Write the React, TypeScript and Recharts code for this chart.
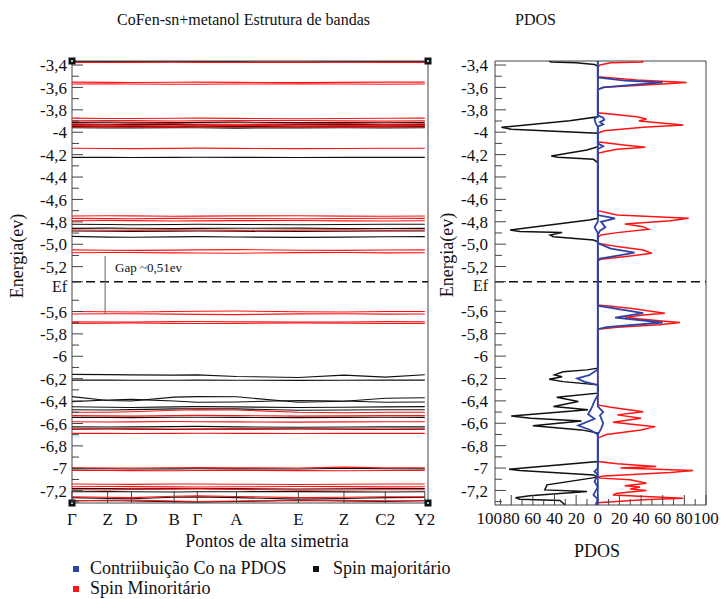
import React from 'react';
import {
  LineChart,
  Line,
  XAxis,
  YAxis,
  ReferenceLine,
  ReferenceArea,
  ReferenceDot,
  ScatterChart,
  Scatter,
} from 'recharts';

const FONT = '"Liberation Serif", "DejaVu Serif", serif';
const INK = '#111';
const FRAME = '#444';
const RED = '#ff1414';
const BLUE = '#2f43a6';

// energy window (eV)
const E_TOP = -3.364;
const E_BOTTOM = -7.31;
const E_BOTTOM_DOS = -7.33;
const E_FERMI = -5.335;

// k-path
const K_POS = [0, 0.1, 0.167, 0.287, 0.352, 0.462, 0.636, 0.764, 0.88, 0.991];
const K_LABELS = ['Γ', 'Z', 'D', 'B', 'Γ', 'A', 'E', 'Z', 'C2', 'Y2'];

const E_TICKS = [-3.4, -3.6, -3.8, -4, -4.2, -4.4, -4.6, -4.8, -5.0, -5.2, E_FERMI, -5.6, -5.8, -6, -6.2, -6.4, -6.6, -6.8, -7, -7.2];
const E_TICK_LABELS = ['-3,4', '-3,6', '-3,8', '-4', '-4,2', '-4,4', '-4,6', '-4,8', '-5,0', '-5,2', 'Ef', '-5,6', '-5,8', '-6', '-6,2', '-6,4', '-6,6', '-6,8', '-7', '-7,2'];
const E_MINOR = [-3.5, -3.7, -3.9, -4.1, -4.3, -4.5, -4.7, -4.9, -5.1, -5.5, -5.7, -5.9, -6.1, -6.3, -6.5, -6.7, -6.9, -7.1, -7.3];

const DOS_LABEL_TICKS = [-95, -80, -60, -40, -20, 0, 20, 40, 60, 80, 100];
const DOS_LABELS = ['100', '80', '60', '40', '20', '0', '20', '40', '60', '80', '100'];
const DOS_MINOR = [-90, -70, -50, -30, -10, 10, 30, 50, 70, 90];

// bands at the k-points (Γ Z D B Γ A E Z C2 Y2)
const MAJORITY_BANDS = [
  [-3.371, -3.372, -3.372, -3.371, -3.371, -3.372, -3.373, -3.372, -3.371, -3.371],
  [-3.912, -3.910, -3.911, -3.913, -3.912, -3.910, -3.914, -3.912, -3.911, -3.912],
  [-3.932, -3.934, -3.930, -3.931, -3.933, -3.935, -3.932, -3.930, -3.933, -3.932],
  [-3.948, -3.946, -3.949, -3.950, -3.947, -3.948, -3.951, -3.949, -3.947, -3.948],
  [-3.960, -3.962, -3.961, -3.959, -3.960, -3.963, -3.961, -3.960, -3.962, -3.960],
  [-4.224, -4.224, -4.225, -4.224, -4.223, -4.224, -4.225, -4.224, -4.224, -4.224],
  [-4.822, -4.824, -4.826, -4.823, -4.821, -4.823, -4.826, -4.824, -4.822, -4.822],
  [-4.858, -4.856, -4.857, -4.860, -4.858, -4.857, -4.856, -4.859, -4.860, -4.858],
  [-4.882, -4.884, -4.885, -4.883, -4.882, -4.884, -4.886, -4.884, -4.881, -4.882],
  [-4.930, -4.936, -4.938, -4.934, -4.932, -4.935, -4.939, -4.936, -4.933, -4.932],
  [-6.162, -6.164, -6.166, -6.168, -6.166, -6.180, -6.189, -6.168, -6.186, -6.165],
  [-6.213, -6.213, -6.214, -6.214, -6.213, -6.214, -6.215, -6.214, -6.213, -6.213],
  [-6.360, -6.395, -6.400, -6.365, -6.360, -6.362, -6.410, -6.402, -6.375, -6.370],
  [-6.405, -6.390, -6.385, -6.400, -6.410, -6.408, -6.395, -6.400, -6.410, -6.408],
  [-6.451, -6.455, -6.458, -6.452, -6.450, -6.452, -6.458, -6.455, -6.452, -6.450],
  [-6.478, -6.480, -6.476, -6.470, -6.468, -6.470, -6.482, -6.480, -6.478, -6.478],
  [-6.546, -6.546, -6.548, -6.545, -6.544, -6.546, -6.548, -6.546, -6.545, -6.546],
  [-6.630, -6.632, -6.630, -6.628, -6.626, -6.630, -6.634, -6.632, -6.630, -6.630],
  [-6.652, -6.650, -6.652, -6.654, -6.652, -6.651, -6.650, -6.652, -6.654, -6.652],
  [-7.005, -7.004, -7.006, -7.005, -7.004, -7.005, -7.006, -7.000, -7.004, -7.005],
  [-7.180, -7.182, -7.184, -7.181, -7.180, -7.182, -7.185, -7.183, -7.181, -7.180],
  [-7.210, -7.208, -7.210, -7.212, -7.210, -7.209, -7.208, -7.211, -7.212, -7.210],
  [-7.262, -7.270, -7.272, -7.258, -7.255, -7.262, -7.275, -7.270, -7.262, -7.260],
  [-7.290, -7.288, -7.292, -7.298, -7.300, -7.296, -7.288, -7.292, -7.296, -7.290],
];

const MINORITY_BANDS = [
  [-3.376, -3.377, -3.376, -3.375, -3.376, -3.377, -3.376, -3.375, -3.376, -3.376],
  [-3.553, -3.555, -3.556, -3.554, -3.553, -3.555, -3.557, -3.555, -3.553, -3.553],
  [-3.570, -3.568, -3.569, -3.572, -3.571, -3.569, -3.568, -3.570, -3.572, -3.570],
  [-3.874, -3.877, -3.878, -3.875, -3.874, -3.876, -3.879, -3.877, -3.875, -3.874],
  [-3.897, -3.895, -3.896, -3.899, -3.898, -3.896, -3.895, -3.898, -3.899, -3.897],
  [-3.925, -3.927, -3.924, -3.923, -3.926, -3.928, -3.925, -3.923, -3.926, -3.925],
  [-3.940, -3.938, -3.941, -3.943, -3.940, -3.939, -3.942, -3.941, -3.939, -3.940],
  [-3.955, -3.957, -3.956, -3.954, -3.955, -3.958, -3.956, -3.954, -3.957, -3.955],
  [-4.143, -4.145, -4.146, -4.144, -4.142, -4.144, -4.146, -4.145, -4.143, -4.143],
  [-4.748, -4.746, -4.747, -4.750, -4.749, -4.747, -4.746, -4.749, -4.750, -4.748],
  [-4.769, -4.771, -4.772, -4.769, -4.768, -4.770, -4.772, -4.770, -4.768, -4.769],
  [-4.790, -4.788, -4.789, -4.792, -4.791, -4.789, -4.788, -4.791, -4.792, -4.790],
  [-4.873, -4.875, -4.874, -4.872, -4.873, -4.876, -4.874, -4.872, -4.875, -4.873],
  [-5.050, -5.053, -5.055, -5.052, -5.050, -5.048, -5.053, -5.055, -5.051, -5.050],
  [-5.076, -5.074, -5.073, -5.077, -5.078, -5.080, -5.075, -5.073, -5.077, -5.076],
  [-5.600, -5.603, -5.605, -5.600, -5.598, -5.596, -5.603, -5.605, -5.601, -5.600],
  [-5.623, -5.621, -5.620, -5.624, -5.626, -5.628, -5.622, -5.620, -5.624, -5.623],
  [-5.692, -5.694, -5.695, -5.691, -5.690, -5.692, -5.695, -5.694, -5.691, -5.692],
  [-5.706, -5.704, -5.703, -5.707, -5.708, -5.706, -5.703, -5.704, -5.707, -5.706],
  [-6.500, -6.500, -6.496, -6.482, -6.476, -6.480, -6.500, -6.504, -6.500, -6.500],
  [-6.530, -6.532, -6.534, -6.530, -6.528, -6.530, -6.534, -6.532, -6.530, -6.530],
  [-6.585, -6.587, -6.586, -6.583, -6.584, -6.586, -6.588, -6.586, -6.584, -6.585],
  [-6.647, -6.645, -6.646, -6.649, -6.648, -6.646, -6.645, -6.647, -6.649, -6.647],
  [-6.688, -6.688, -6.689, -6.688, -6.687, -6.688, -6.689, -6.688, -6.688, -6.688],
  [-6.995, -6.997, -6.998, -6.995, -6.994, -6.996, -6.998, -6.990, -6.995, -6.995],
  [-7.020, -7.019, -7.021, -7.022, -7.020, -7.019, -7.021, -7.022, -7.020, -7.020],
  [-7.141, -7.143, -7.144, -7.141, -7.140, -7.142, -7.145, -7.143, -7.141, -7.141],
  [-7.165, -7.163, -7.164, -7.166, -7.167, -7.165, -7.163, -7.164, -7.166, -7.165],
  [-7.192, -7.194, -7.190, -7.186, -7.184, -7.188, -7.195, -7.194, -7.192, -7.192],
  [-7.255, -7.258, -7.262, -7.250, -7.246, -7.252, -7.262, -7.258, -7.254, -7.255],
  [-7.290, -7.286, -7.284, -7.292, -7.296, -7.292, -7.284, -7.287, -7.290, -7.290],
];

// PDOS curves: [energy, states] (majority drawn to the left)
const MAJ_DOS = [
  [-3.364, -45], [-3.372, -43], [-3.38, -20], [-3.395, -3], [-3.41, 0],
  [-3.862, 0], [-3.897, -26], [-3.956, -89], [-3.974, -80], [-4.01, 0],
  [-4.129, 0], [-4.159, -10], [-4.213, -43], [-4.224, -37], [-4.242, -4], [-4.272, 0],
  [-4.769, 0], [-4.784, -8], [-4.873, -81], [-4.888, -72], [-4.897, -33], [-4.918, -44], [-4.933, -41], [-4.963, -4], [-4.978, 0],
  [-6.108, 0], [-6.123, -10], [-6.14, -32], [-6.168, -40], [-6.185, -33], [-6.207, -45], [-6.228, -32], [-6.257, 0],
  [-6.331, 0], [-6.367, -38], [-6.406, -18], [-6.451, -41], [-6.48, -9], [-6.534, -80], [-6.555, -62], [-6.579, -15], [-6.623, -60], [-6.659, -15], [-6.688, 0],
  [-6.942, 0], [-7.01, -82], [-7.022, -72], [-7.061, -4], [-7.08, 0],
  [-7.09, -6], [-7.15, -47], [-7.195, -49], [-7.21, -10], [-7.248, -63], [-7.265, -76], [-7.278, -72], [-7.29, -35], [-7.33, -30],
];

const MIN_DOS = [
  [-3.364, 40], [-3.372, 42], [-3.38, 12], [-3.4, 2], [-3.42, 0],
  [-3.504, 0], [-3.534, 36], [-3.555, 82], [-3.57, 60], [-3.599, 6], [-3.617, 0],
  [-3.826, 0], [-3.862, 36], [-3.882, 45], [-3.9, 38], [-3.936, 79], [-3.956, 42], [-3.987, 6], [-4.01, 0],
  [-4.085, 0], [-4.114, 24], [-4.135, 44], [-4.153, 18], [-4.174, 6], [-4.188, 0],
  [-4.701, 0], [-4.739, 18], [-4.769, 84], [-4.79, 67], [-4.82, 25], [-4.844, 42], [-4.867, 47], [-4.897, 18], [-4.918, 3], [-4.94, 0],
  [-4.992, 0], [-5.022, 18], [-5.052, 42], [-5.081, 50], [-5.105, 30], [-5.135, 3], [-5.147, 0],
  [-5.543, 0], [-5.573, 30], [-5.617, 62], [-5.632, 42], [-5.656, 25], [-5.683, 54], [-5.7, 76], [-5.721, 57], [-5.742, 18], [-5.76, 0],
  [-6.436, 0], [-6.457, 12], [-6.496, 42], [-6.525, 18], [-6.556, 40], [-6.59, 14], [-6.63, 53], [-6.66, 40], [-6.7, 8], [-6.733, 0],
  [-6.942, 0], [-6.962, 18], [-6.986, 54], [-7.0, 21], [-7.022, 88], [-7.04, 67], [-7.07, 6], [-7.08, 0],
  [-7.09, 2], [-7.105, 30], [-7.135, 45], [-7.159, 25], [-7.17, 39], [-7.188, 30], [-7.2, 45], [-7.224, 18], [-7.24, 14], [-7.269, 79], [-7.284, 42], [-7.31, 0],
];

const CO_MIN_DOS = [
  [-3.364, 0], [-3.51, 0], [-3.54, 25], [-3.555, 60], [-3.575, 35], [-3.6, 5], [-3.62, 0],
  [-3.85, 0], [-3.87, 5], [-3.89, 6], [-3.91, 2], [-3.93, 5], [-3.95, 0],
  [-4.1, 0], [-4.125, 5], [-4.15, 0],
  [-4.74, 0], [-4.769, 16], [-4.8, 3], [-4.85, 7], [-4.88, 2], [-4.92, 0],
  [-4.99, 0], [-5.04, 12], [-5.075, 34], [-5.1, 20], [-5.13, 2], [-5.15, 0],
  [-5.55, 0], [-5.617, 42], [-5.656, 16], [-5.7, 60], [-5.742, 8], [-5.76, 0],
  [-6.45, 0], [-6.5, 5], [-6.53, 2], [-6.6, 5], [-6.65, 3], [-6.7, 0],
  [-7.33, 0],
];

const CO_MAJ_DOS = [
  [-3.364, 0], [-3.86, 0], [-3.88, -3], [-3.92, -2], [-3.95, 0],
  [-4.8, 0], [-4.85, -3], [-4.9, 0],
  [-6.12, 0], [-6.17, -8], [-6.2, -19], [-6.23, -12], [-6.257, 0],
  [-6.35, 0], [-6.4, -3], [-6.47, -6], [-6.52, -9], [-6.56, -3], [-6.62, -18], [-6.66, -7], [-6.7, 0],
  [-7.0, 0], [-7.03, -3], [-7.06, 0], [-7.12, -3], [-7.17, 0], [-7.24, -4], [-7.28, 0], [-7.33, -2],
];

const bandRows = K_POS.map((k, i) => {
  const row: Record<string, number> = { k };
  MAJORITY_BANDS.forEach((b, j) => (row['up' + j] = b[i]));
  MINORITY_BANDS.forEach((b, j) => (row['dn' + j] = b[i]));
  return row;
});

const toPoints = (rows: number[][]) => rows.map(([e, v]) => ({ e, v }));

const textStyle = { fontFamily: FONT };

function EnergyTick({ x, y, payload, gap }: any) {
  const idx = E_TICKS.indexOf(payload.value);
  const major = idx >= 0;
  const fermi = payload.value === E_FERMI;
  return (
    <g>
      <line x1={x} x2={x + (major ? 11 : 7)} y1={y} y2={y} stroke={FRAME} />
      {major && (
        <text
          x={x - gap}
          y={fermi ? y + 4 : y}
          dy="0.36em"
          textAnchor="end"
          fontSize={fermi ? 16 : 17}
          style={textStyle}
          fill={INK}
        >
          {E_TICK_LABELS[idx]}
        </text>
      )}
    </g>
  );
}

function KTick({ x, y, payload, top }: any) {
  if (top) return <line x1={x} x2={x} y1={y} y2={y + 12} stroke={FRAME} />;
  const idx = K_POS.indexOf(payload.value);
  return (
    <g>
      <line x1={x} x2={x} y1={y} y2={y - 12} stroke={FRAME} />
      <text x={x} y={y + 22} textAnchor="middle" fontSize={17} style={textStyle} fill={INK}>
        {K_LABELS[idx]}
      </text>
    </g>
  );
}

function DosTick({ x, y, payload, top }: any) {
  const idx = DOS_LABEL_TICKS.indexOf(payload.value);
  const edge = payload.value === -95;
  const len = edge ? 0 : idx >= 0 ? 10 : 6;
  return (
    <g>
      <line x1={x} x2={x} y1={y} y2={top ? y + len : y - len} stroke={FRAME} />
      {!top && idx >= 0 && (
        <text
          x={edge ? x + 7 : x}
          y={y + 19}
          textAnchor={edge ? 'end' : 'middle'}
          fontSize={17}
          style={textStyle}
          fill={INK}
        >
          {DOS_LABELS[idx]}
        </text>
      )}
    </g>
  );
}

const cornerShape = (p: any) => (
  <g>
    <rect x={p.cx - 3.5} y={p.cy - 3.5} width={7} height={7} fill="#111" />
    <rect x={p.cx - 1} y={p.cy - 1} width={2} height={2} fill="#9cd" />
  </g>
);

const noDot = () => <g />;

function BandChart() {
  const allTicks = [...E_TICKS, ...E_MINOR];
  const corners = [
    [0, E_TOP],
    [1, E_TOP],
    [0, E_BOTTOM],
    [1, E_BOTTOM],
  ];
  return (
    <LineChart width={440} height={530} data={bandRows} margin={{ top: 61, right: 12, bottom: 0, left: 0 }}>
      <XAxis
        dataKey="k"
        type="number"
        domain={[0, 1]}
        allowDataOverflow
        ticks={K_POS}
        interval={0}
        tickSize={0}
        tickMargin={0}
        height={27}
        axisLine={false}
        tick={<KTick />}
      />
      <XAxis
        xAxisId="top"
        orientation="top"
        dataKey="k"
        type="number"
        domain={[0, 1]}
        allowDataOverflow
        ticks={K_POS}
        interval={0}
        tickSize={0}
        tickMargin={0}
        height={0}
        axisLine={false}
        tick={<KTick top />}
      />
      <YAxis
        type="number"
        domain={[E_BOTTOM, E_TOP]}
        allowDataOverflow
        ticks={allTicks}
        interval={0}
        tickSize={0}
        tickMargin={0}
        width={72}
        axisLine={false}
        tick={<EnergyTick gap={5} />}
      />
      {MAJORITY_BANDS.map((_, j) => (
        <Line key={'up' + j} dataKey={'up' + j} type="linear" stroke={INK} strokeWidth={1.1} dot={false} isAnimationActive={false} />
      ))}
      {MINORITY_BANDS.map((_, j) => (
        <Line key={'dn' + j} dataKey={'dn' + j} type="linear" stroke={RED} strokeWidth={1.1} dot={false} isAnimationActive={false} />
      ))}
      <ReferenceLine y={E_FERMI} stroke={INK} strokeWidth={1.5} strokeDasharray="9 5" />
      <ReferenceLine
        segment={[
          { x: 0.093, y: -5.105 },
          { x: 0.093, y: -5.623 },
        ]}
        stroke="#666"
      />
      <ReferenceDot
        x={0.121}
        y={-5.204}
        r={1}
        ifOverflow="visible"
        shape={(p: any) => (
          <text x={p.cx} y={p.cy} dy="0.35em" fontSize={13} style={textStyle} fill={INK}>
            Gap ~0,51ev
          </text>
        )}
      />
      <ReferenceArea x1={0} x2={1} y1={E_BOTTOM} y2={E_TOP} fill="none" stroke={FRAME} ifOverflow="visible" />
      {corners.map(([cx, cy], i) => (
        <ReferenceDot key={i} x={cx} y={cy} r={4} ifOverflow="visible" shape={cornerShape} />
      ))}
    </LineChart>
  );
}

function PdosChart() {
  const allTicks = [...E_TICKS, ...E_MINOR];
  const dosTicks = [...DOS_LABEL_TICKS, ...DOS_MINOR];
  return (
    <ScatterChart width={290} height={530} margin={{ top: 61, right: 14, bottom: 0, left: 0 }}>
      <XAxis
        dataKey="v"
        type="number"
        domain={[-95, 100]}
        allowDataOverflow
        ticks={dosTicks}
        interval={0}
        tickSize={0}
        tickMargin={0}
        height={25}
        axisLine={false}
        tick={<DosTick />}
      />
      <XAxis
        xAxisId="top"
        orientation="top"
        dataKey="v"
        type="number"
        domain={[-95, 100]}
        allowDataOverflow
        ticks={dosTicks}
        interval={0}
        tickSize={0}
        tickMargin={0}
        height={0}
        axisLine={false}
        tick={<DosTick top />}
      />
      <YAxis
        dataKey="e"
        type="number"
        domain={[E_BOTTOM_DOS, E_TOP]}
        allowDataOverflow
        ticks={allTicks}
        interval={0}
        tickSize={0}
        tickMargin={0}
        width={65}
        axisLine={false}
        tick={<EnergyTick gap={7} />}
      />
      <ReferenceArea x1={-95} x2={100} y1={E_BOTTOM_DOS} y2={E_TOP} fill="none" stroke={FRAME} ifOverflow="visible" />
      <ReferenceLine y={E_FERMI} stroke={INK} strokeWidth={1.5} strokeDasharray="9 5" />
      <Scatter data={toPoints(MAJ_DOS)} fill={INK} line={{ stroke: INK, strokeWidth: 1.5 }} shape={noDot} isAnimationActive={false} />
      <Scatter data={toPoints(MIN_DOS)} fill={RED} line={{ stroke: RED, strokeWidth: 1.5 }} shape={noDot} isAnimationActive={false} />
      <Scatter data={toPoints(CO_MAJ_DOS)} fill={BLUE} line={{ stroke: BLUE, strokeWidth: 1.8 }} shape={noDot} isAnimationActive={false} />
      <Scatter data={toPoints(CO_MIN_DOS)} fill={BLUE} line={{ stroke: BLUE, strokeWidth: 1.8 }} shape={noDot} isAnimationActive={false} />
    </ScatterChart>
  );
}

const abs = (left: number, top: number, extra: React.CSSProperties = {}): React.CSSProperties => ({
  position: 'absolute',
  left,
  top,
  whiteSpace: 'nowrap',
  lineHeight: 1,
  ...extra,
});

const vertical: React.CSSProperties = {
  fontSize: 18,
  writingMode: 'vertical-rl',
  transform: 'translate(-50%, -50%) rotate(180deg)',
};

export default function App() {
  return (
    <div
      style={{
        position: 'fixed',
        left: 0,
        top: 0,
        width: 722,
        height: 599,
        overflow: 'hidden',
        background: '#fff',
        fontFamily: FONT,
        color: INK,
      }}
    >
      <div style={{ position: 'absolute', left: 0, top: 0 }}>
        <BandChart />
      </div>
      <div style={{ position: 'absolute', left: 430, top: 0 }}>
        <PdosChart />
      </div>

      <div style={abs(117, 20, { fontSize: 16, transform: 'translateY(-50%)' })}>CoFen-sn+metanol Estrutura de bandas</div>
      <div style={abs(515, 20, { fontSize: 16, transform: 'translateY(-50%)' })}>PDOS</div>

      <div style={abs(17, 256, vertical)}>Energia(ev)</div>
      <div style={abs(447, 255, vertical)}>Energia(ev)</div>

      <div style={abs(267, 541, { fontSize: 18, transform: 'translate(-50%, -50%)' })}>Pontos de alta simetria</div>
      <div style={abs(597, 551, { fontSize: 18, transform: 'translate(-50%, -50%)' })}>PDOS</div>

      <div style={abs(73, 566, { width: 6, height: 6, background: BLUE })} />
      <div style={abs(90, 568, { fontSize: 18, transform: 'translateY(-50%)' })}>Contriibuição Co na PDOS</div>
      <div style={abs(313, 566, { width: 6, height: 6, background: INK })} />
      <div style={abs(333, 568, { fontSize: 18, transform: 'translateY(-50%)' })}>Spin majoritário</div>
      <div style={abs(73, 586, { width: 6, height: 6, background: RED })} />
      <div style={abs(90, 588, { fontSize: 18, transform: 'translateY(-50%)' })}>Spin Minoritário</div>
    </div>
  );
}
